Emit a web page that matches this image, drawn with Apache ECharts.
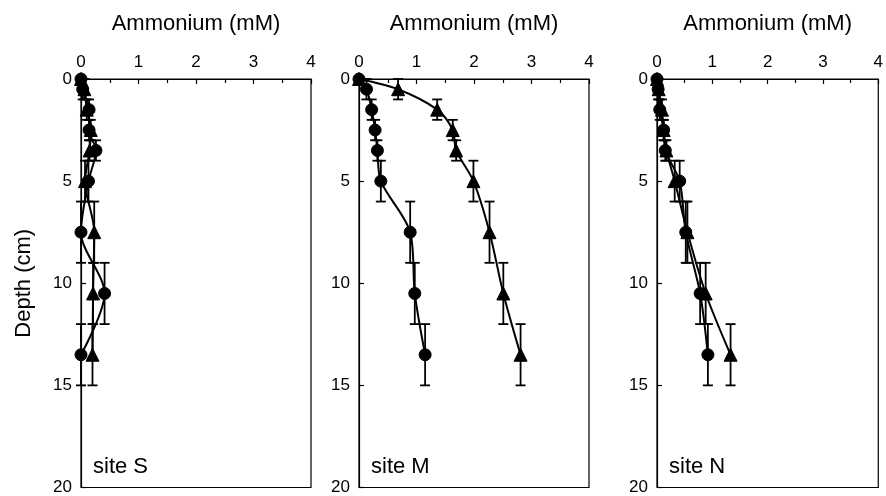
<!DOCTYPE html>
<html>
<head>
<meta charset="utf-8">
<script src="https://cdn.jsdelivr.net/npm/echarts@6/dist/echarts.min.js"></script>
<style>
html,body{margin:0;padding:0;background:#fff;}
#chart{width:886px;height:496px;}
</style>
</head>
<body>
<div id="chart"></div>
<script>
// Depth of each sample (cm) and the slice range it represents
const depth     = [0, 0.5, 1.5, 2.5, 3.5, 5, 7.5, 10.5, 13.5];
const depthLow  = [0, 0,   1,   2,   3,   4, 6,   9,    12];
const depthHigh = [0, 1,   2,   3,   4,   6, 9,   12,   15];

// Ammonium (mM) — circles and triangles per site
const siteS_circle   = [0, 0.03, 0.14, 0.14, 0.26, 0.13, 0.00, 0.41, 0.00];
const siteS_triangle = [0, 0.06, 0.10, 0.17, 0.15, 0.07, 0.23, 0.21, 0.20];
const siteM_circle   = [0, 0.13, 0.22, 0.28, 0.32, 0.38, 0.89, 0.97, 1.15];
const siteM_triangle = [0, 0.68, 1.36, 1.63, 1.69, 1.99, 2.27, 2.51, 2.81];
const siteN_circle   = [0, 0.02, 0.05, 0.12, 0.15, 0.41, 0.52, 0.78, 0.92];
const siteN_triangle = [0, 0.03, 0.09, 0.12, 0.17, 0.32, 0.55, 0.88, 1.33];

const siteNames = ['site S', 'site M', 'site N'];
const xTicks = [0, 1, 2, 3, 4];
const yTicks = [0, 5, 10, 15, 20];

const FONT = 'Liberation Sans, Arial, Helvetica, sans-serif';
const panels = [
  {c: siteS_circle, t: siteS_triangle},
  {c: siteM_circle, t: siteM_triangle},
  {c: siteN_circle, t: siteN_triangle}
];
const lefts = [81, 359, 657];
const widths = [230, 230, 228];

const grids = [], xAxes = [], yAxes = [], series = [], graphics = [];

panels.forEach((p, i) => {
  grids.push({left: lefts[i], top: 79, width: widths[i], height: 410,
    show: true, borderColor: '#000', borderWidth: 1.2, backgroundColor: 'transparent'});
  xAxes.push({
    type: 'value', gridIndex: i, position: 'top',
    min: xTicks[0], max: xTicks[xTicks.length - 1], interval: 1,
    name: 'Ammonium (mM)', nameLocation: 'middle', nameGap: 44,
    nameTextStyle: {fontFamily: FONT, fontSize: 22, color: '#000'},
    axisLine: {show: true, onZero: false, lineStyle: {color: '#000', width: 1.2}},
    axisTick: {show: true, inside: true, length: 5, lineStyle: {color: '#000', width: 1.2}},
    minorTick: {show: true, splitNumber: 2, length: 4, lineStyle: {color: '#000', width: 1.2}},
    axisLabel: {fontFamily: FONT, fontSize: 17, color: '#000', margin: 8},
    splitLine: {show: false}
  });
  yAxes.push({
    type: 'value', gridIndex: i, inverse: true,
    min: yTicks[0], max: yTicks[yTicks.length - 1], interval: 5,
    name: i === 0 ? 'Depth (cm)' : '', nameLocation: 'middle', nameGap: 46,
    nameTextStyle: {fontFamily: FONT, fontSize: 22, color: '#000'},
    axisLine: {show: true, onZero: false, lineStyle: {color: '#000', width: 1.2}},
    axisTick: {show: true, inside: true, length: 5, lineStyle: {color: '#000', width: 1.2}},
    axisLabel: {fontFamily: FONT, fontSize: 17, color: '#000', margin: 9},
    splitLine: {show: false}
  });

  [[p.c, 'circle', 12], [p.t, 'triangle', 13]].forEach(([vals, sym, size]) => {
    const errData = [];
    vals.forEach((v, k) => {
      if (depthHigh[k] > depthLow[k]) errData.push([v, depthLow[k], depthHigh[k]]);
    });
    series.push({
      type: 'custom', xAxisIndex: i, yAxisIndex: i, z: 2, silent: true,
      data: errData,
      encode: {x: 0, y: [1, 2]},
      renderItem: function (params, api) {
        const x = api.value(0);
        const a = api.coord([x, api.value(1)]);
        const b = api.coord([x, api.value(2)]);
        const w = 5;
        const st = {stroke: '#000', lineWidth: 1.8};
        return {type: 'group', children: [
          {type: 'line', shape: {x1: a[0], y1: a[1], x2: b[0], y2: b[1]}, style: st},
          {type: 'line', shape: {x1: a[0] - w, y1: a[1], x2: a[0] + w, y2: a[1]}, style: st},
          {type: 'line', shape: {x1: b[0] - w, y1: b[1], x2: b[0] + w, y2: b[1]}, style: st}
        ]};
      }
    });
    series.push({
      type: 'line', xAxisIndex: i, yAxisIndex: i, z: 3,
      data: vals.map((v, k) => [v, depth[k]]),
      smooth: 0.3,
      symbol: sym, symbolSize: size, showAllSymbol: true,
      itemStyle: {color: '#000', borderColor: '#000'},
      lineStyle: {color: '#000', width: 2},
      clip: false
    });
  });

  graphics.push({type: 'text', x: lefts[i] + 12, y: 467,
    style: {text: siteNames[i], font: '22px ' + FONT, fill: '#000', verticalAlign: 'middle', align: 'left'}});
});

const chart = echarts.init(document.getElementById('chart'), null, {renderer: 'canvas'});
chart.setOption({
  animation: false,
  backgroundColor: '#fff',
  grid: grids, xAxis: xAxes, yAxis: yAxes, series: series,
  graphic: graphics
});
</script>
</body>
</html>
